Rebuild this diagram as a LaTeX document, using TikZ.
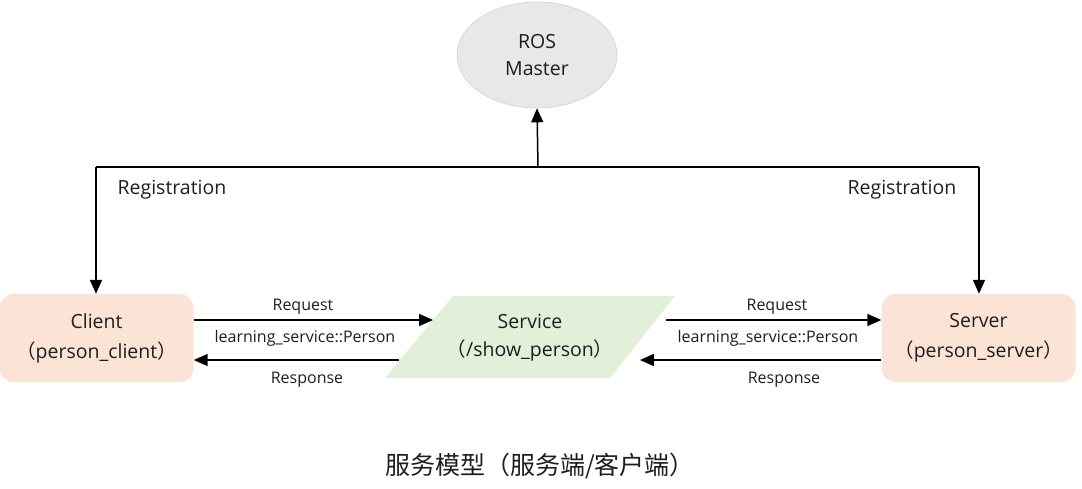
\documentclass[tikz,border=0pt]{standalone}
\usepackage{fontspec}
\setmainfont{Open Sans}
\newfontfamily\cjk{Noto Sans CJK SC}
\usetikzlibrary{arrows.meta,shapes.geometric}
\definecolor{peach}{HTML}{FBE4D5}
\definecolor{mint}{HTML}{E2EFD9}
\definecolor{mgrey}{HTML}{E8E8E8}
\definecolor{tgrey}{HTML}{1E1E1E}
\begin{document}
\begin{tikzpicture}[x=1pt,y=-1pt,
  arr/.style={line width=1.5pt,-{Triangle[length=14pt,width=12pt]},draw=black},
  ln/.style={line width=1.5pt,draw=black},
  procbox/.style={rectangle,rounded corners=14pt,fill=peach,minimum width=194pt,minimum height=88pt,align=center,font=\fontsize{19.5}{30}\selectfont,text=tgrey},
  lbl/.style={font=\fontsize{16}{18}\selectfont,text=tgrey},
  reg/.style={font=\fontsize{19.5}{22}\selectfont,text=tgrey}]
\useasboundingbox (0,0) rectangle (1082,489);
% ROS Master
\node[ellipse,fill=mgrey,draw=black!18,line width=0.6pt,minimum width=160pt,minimum height=106pt,align=center,font=\fontsize{19.5}{27}\selectfont,text=tgrey] (master) at (537,55) {ROS\\Master};
% clients
\node[procbox] (client) at (96.5,338) {Client\\{\cjk（}person\_client{\cjk）}};
\node[procbox] (server) at (978.5,338) {Server\\{\cjk（}person\_server{\cjk）}};
% service parallelogram
\fill[mint] (453,296) -- (675,296) -- (610,378) -- (385,378) -- cycle;
\node[align=center,font=\fontsize{19.5}{28}\selectfont,text=tgrey] (service) at (530,338) {Service\\{\cjk（}/show\_person{\cjk）}};
% registration
\coordinate (hub) at (538,167);
\coordinate (lc) at (96,167);
\coordinate (rc) at (979,167);
\draw[ln] (lc) -- (rc);
\draw[arr] (hub) -- (master.south);
\draw[arr] (lc) -- (client.north -| lc);
\draw[arr] (rc) -- (server.north -| rc);
\node[reg] (regl) at (172,190) {Registration};
\node[reg] (regr) at (902,190) {Registration};
% left request/response
\coordinate (sL1) at (433,320);
\coordinate (sL2) at (399,360);
\coordinate (sR1) at (666,320);
\coordinate (sR2) at (640,360);
\draw[arr] (client.east |- sL1) -- (sL1);
\draw[arr] (sL2) -- (client.east |- sL2);
\draw[arr] (sR1) -- (server.west |- sR1);
\draw[arr] (server.west |- sR2) -- (sR2);
\node[lbl] (rq1) at (303,307) {Request};
\node[lbl] (ty1) at (305,338) {learning\_service::Person};
\node[lbl] (rs1) at (307,380) {Response};
\node[lbl] (rq2) at (777,307) {Request};
\node[lbl] (ty2) at (768,338) {learning\_service::Person};
\node[lbl] (rs2) at (784,380) {Response};
% caption
\node[font=\cjk\fontsize{25}{27}\selectfont,text=tgrey] (cap) at (540,466) {服务模型（服务端/客户端）};
\end{tikzpicture}
\end{document}
